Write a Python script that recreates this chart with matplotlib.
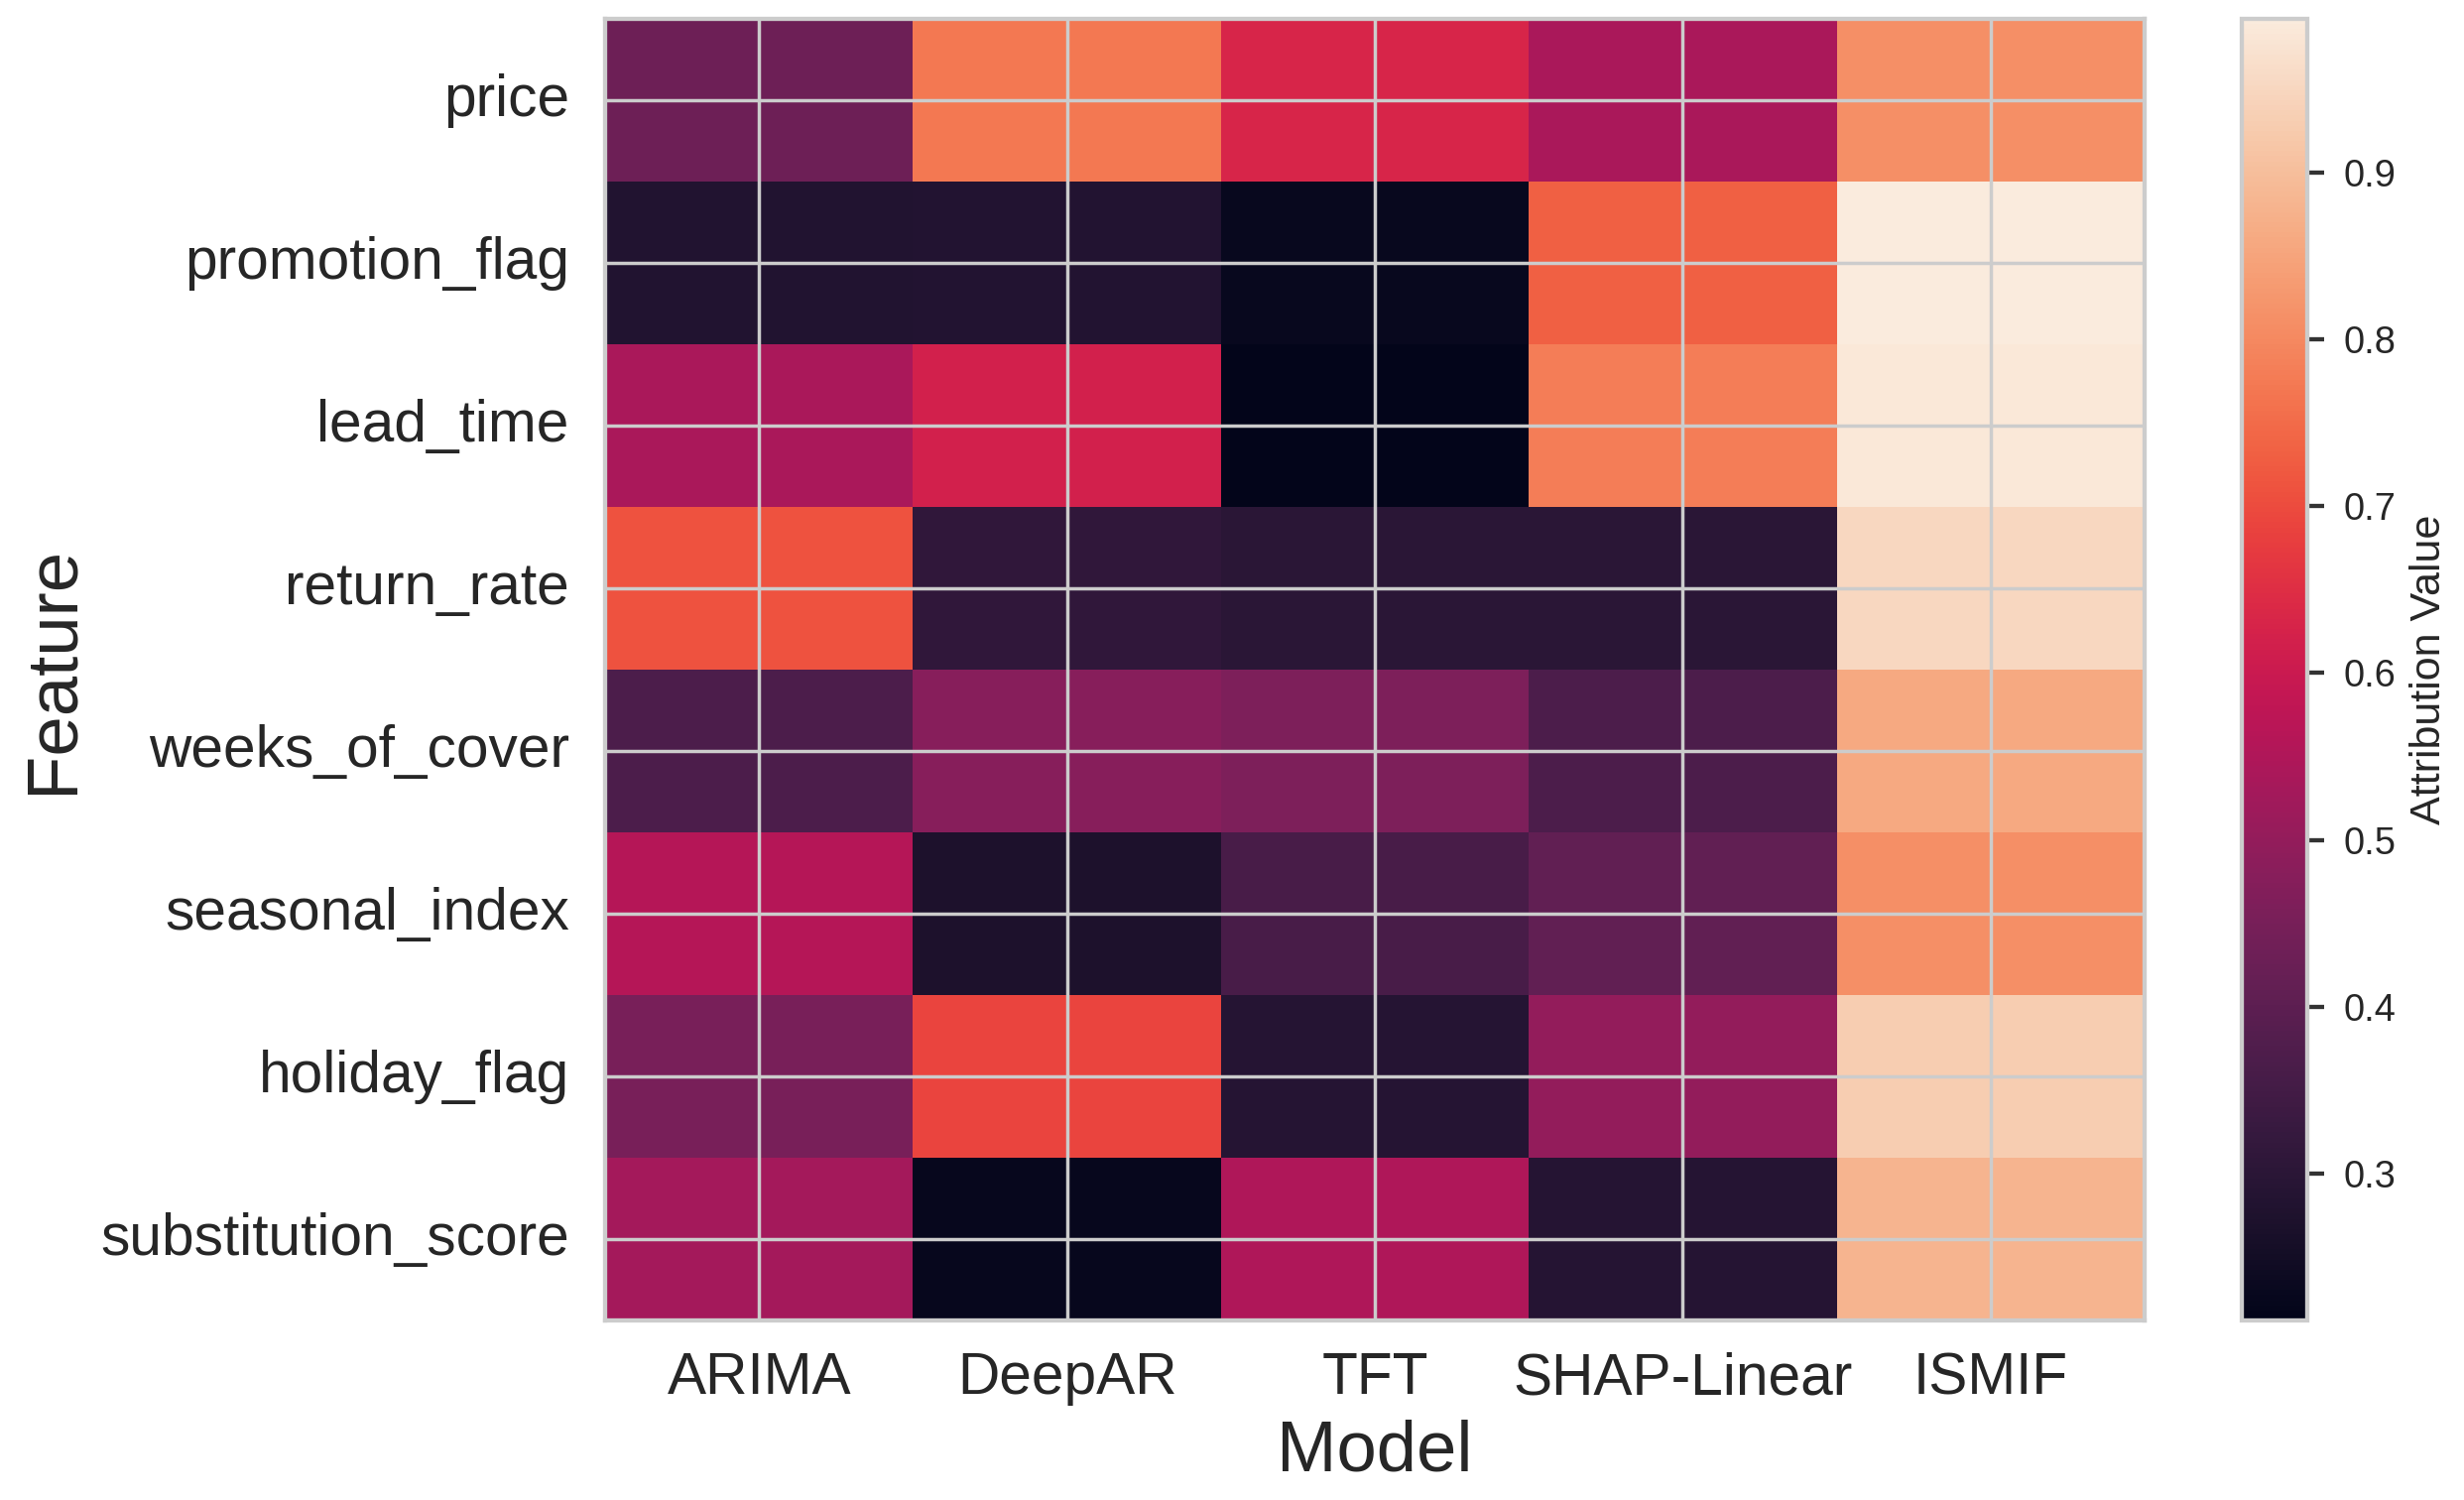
import numpy as np
import pandas as pd
import matplotlib
matplotlib.use('Agg')
import matplotlib.pyplot as plt
import seaborn as sns

# 特征与模型
features = ['price', 'promotion_flag', 'lead_time', 'return_rate',
            'weeks_of_cover', 'seasonal_index', 'holiday_flag', 'substitution_score']
models = ['ARIMA', 'DeepAR', 'TFT', 'SHAP-Linear', 'ISMIF']

# 每个模型的归因值
arima = [0.43, 0.28, 0.54, 0.71, 0.37, 0.56, 0.45, 0.53]
deepar = [0.77, 0.285, 0.62, 0.31, 0.48, 0.27, 0.69, 0.225]
tft = [0.63, 0.23, 0.212, 0.30, 0.46, 0.36, 0.29, 0.55]
shap_linear = [0.54, 0.73, 0.78, 0.30, 0.37, 0.41, 0.50, 0.29]
ismif = [0.81, 0.992, 0.985, 0.95, 0.86, 0.81, 0.93, 0.88]

df = pd.DataFrame({'ARIMA': arima, 'DeepAR': deepar, 'TFT': tft,
                   'SHAP-Linear': shap_linear, 'ISMIF': ismif}, index=features)

sns.set_theme(style='whitegrid')
plt.rcParams['font.family'] = ['Liberation Sans', 'DejaVu Sans']

fig = plt.figure(figsize=(10, 6.087), dpi=248.4)
ax = fig.add_axes([0.2456, 0.1197, 0.6248, 0.8677])
cax = fig.add_axes([0.9098, 0.1197, 0.0266, 0.8677])

sns.heatmap(df, cmap='rocket', ax=ax, cbar_ax=cax,
            cbar_kws={'label': 'Attribution Value'})
ax.set_axisbelow(False)
ax.grid(True, color='#cccccc', linewidth=1)
for s in ax.spines.values():
    s.set_visible(True)
    s.set_color('#cccccc')
    s.set_linewidth(1.25)

ax.set_xlabel('Model', fontsize=21)
ax.set_ylabel('Feature', fontsize=21)
ax.tick_params(axis='both', labelsize=17, length=0)
ax.tick_params(axis='x', pad=9)
ax.tick_params(axis='y', pad=10.5)
plt.setp(ax.get_yticklabels(), rotation=0)
plt.setp(ax.get_xticklabels(), rotation=0)

cax.tick_params(axis='y', right=True, length=5, width=1.25, color='#333333',
                labelsize=11, pad=5.5)
cbar = ax.collections[0].colorbar
cbar.outline.set_visible(True)
cbar.outline.set_edgecolor('#cccccc')
cbar.outline.set_linewidth(1.25)
cbar.set_label('Attribution Value', fontsize=12.5)

fig.savefig('out.png', dpi=248.4)
